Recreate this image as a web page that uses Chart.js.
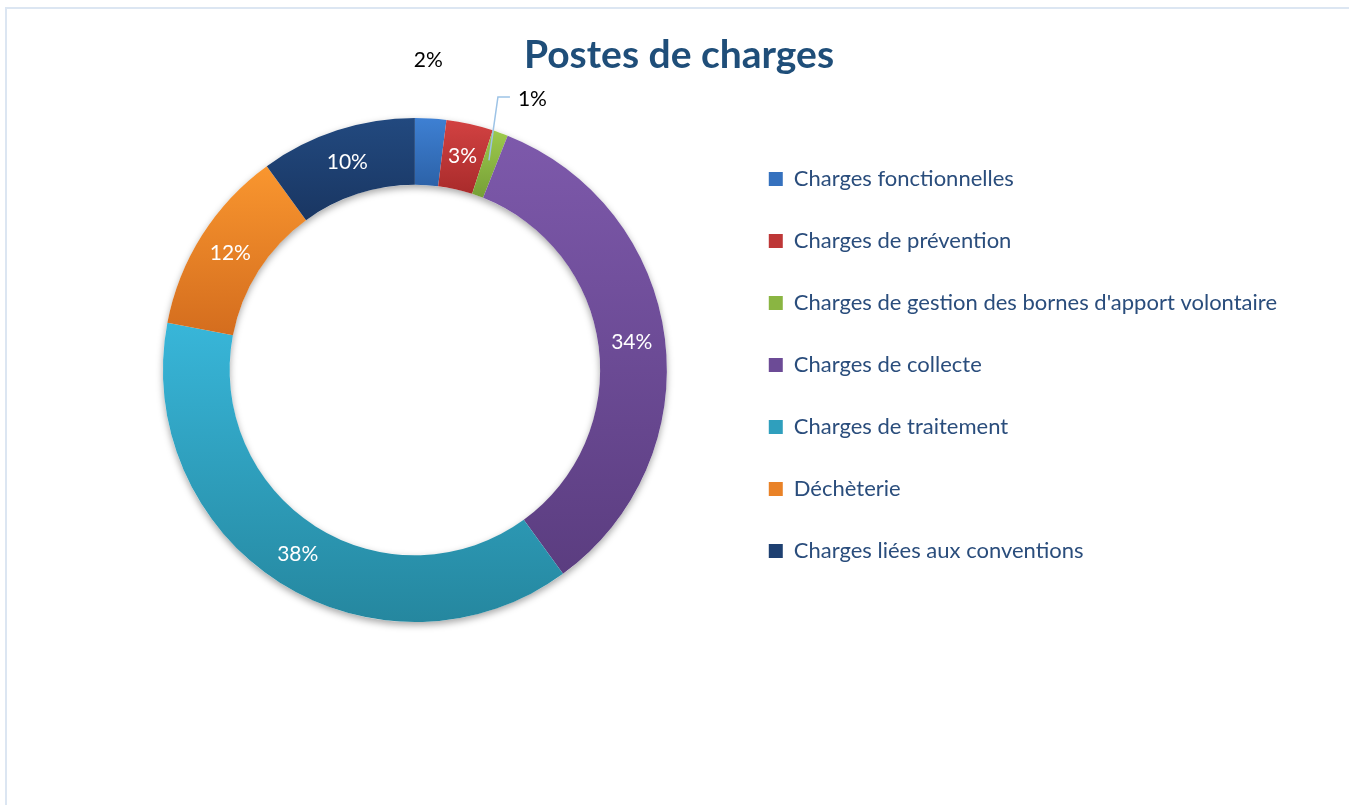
<!DOCTYPE html>
<html lang="fr">
<head>
<meta charset="utf-8">
<title>Postes de charges</title>
<script src="https://cdn.jsdelivr.net/npm/chart.js@4.4.1/dist/chart.umd.min.js"></script>
<style>
    html, body { margin: 0; padding: 0; background: #fff; overflow: hidden; }
    #chart { position: absolute; left: 0; top: 0; }
</style>
</head>
<body>
<canvas id="chart" width="1349" height="805"></canvas>
<script>
// Chart data
const categories = [
    'Charges fonctionnelles',
    'Charges de prévention',
    "Charges de gestion des bornes d'apport volontaire",
    'Charges de collecte',
    'Charges de traitement',
    'Déchèterie',
    'Charges liées aux conventions'
];
const shares = [2, 3, 1, 34, 38, 12, 10];

// Slice colours: [light top, dark bottom]
const topColors = ['#3e80d3', '#d24242', '#9dca4c', '#7d59ab', '#38b6d9', '#f9962f', '#22497f'];
const bottomColors = ['#2c62a8', '#a92b2b', '#769f37', '#5b3d80', '#25879f', '#d46d1e', '#193662'];
const midColors = ['#3571be', '#be3737', '#8ab542', '#6c4b96', '#2f9fbd', '#e98227', '#1e4071'];

const FONT = 'Lato, "Open Sans", sans-serif';
const LEGEND_SIZE = 22;
const LEGEND_PAD = 40;
const LEGEND_BOX = 14;

// measure the longest legend label so the legend lands at x ~ 769
function legendWidth() {
    const c = document.createElement('canvas').getContext('2d');
    c.font = `${LEGEND_SIZE}px ${FONT}`;
    const w = Math.max(...categories.map(t => c.measureText(t).width));
    return 10 + LEGEND_PAD + LEGEND_BOX + LEGEND_SIZE / 2 + w;
}
const padRight = Math.round(1349 - 729 - legendWidth());

function arcBounds(arc) {
    let minY = Infinity, maxY = -Infinity;
    const steps = 24;
    for (let s = 0; s <= steps; s++) {
        const a = arc.startAngle + (arc.endAngle - arc.startAngle) * s / steps;
        [arc.outerRadius, arc.innerRadius].forEach(r => {
            const y = arc.y + Math.sin(a) * r;
            minY = Math.min(minY, y);
            maxY = Math.max(maxY, y);
        });
    }
    return [minY, maxY];
}

// chart frame (left and top edges only are in view)
const framePlugin = {
    id: 'frame',
    beforeDraw(chart) {
        const ctx = chart.ctx;
        ctx.save();
        ctx.strokeStyle = '#dce6f2';
        ctx.lineWidth = 2;
        ctx.beginPath();
        ctx.moveTo(6, 820);
        ctx.lineTo(6, 8);
        ctx.lineTo(1360, 8);
        ctx.stroke();
        ctx.restore();
    }
};

// vertical gradient per slice, like the office chart style
const gradientPlugin = {
    id: 'sliceGradient',
    afterUpdate(chart) {
        const meta = chart.getDatasetMeta(0);
        meta.data.forEach((arc, i) => {
            const [y0, y1] = arcBounds(arc);
            const g = chart.ctx.createLinearGradient(0, y0, 0, y1);
            g.addColorStop(0, topColors[i]);
            g.addColorStop(1, bottomColors[i]);
            arc.options = Object.assign({}, arc.options, { backgroundColor: g });
        });
    }
};

// soft shadow under the ring
const shadowPlugin = {
    id: 'ringShadow',
    beforeDatasetsDraw(chart) {
        const arc = chart.getDatasetMeta(0).data[0];
        if (!arc) return;
        const ctx = chart.ctx;
        ctx.save();
        ctx.shadowColor = 'rgba(0,0,0,0.35)';
        ctx.shadowBlur = 7;
        ctx.shadowOffsetY = 3;
        ctx.fillStyle = '#ffffff';
        ctx.beginPath();
        ctx.arc(arc.x, arc.y, arc.outerRadius, 0, Math.PI * 2, false);
        ctx.arc(arc.x, arc.y, arc.innerRadius, 0, Math.PI * 2, true);
        ctx.fill();
        ctx.restore();
    }
};

// percentage labels
const labelPlugin = {
    id: 'pctLabels',
    afterDatasetsDraw(chart) {
        const ctx = chart.ctx;
        const meta = chart.getDatasetMeta(0);
        ctx.save();
        ctx.font = `21px ${FONT}`;
        ctx.textBaseline = 'middle';
        meta.data.forEach((arc, i) => {
            const text = shares[i] + '%';
            const mid = (arc.startAngle + arc.endAngle) / 2;
            if (shares[i] >= 3) {
                const p = arc.getCenterPoint();
                ctx.fillStyle = '#ffffff';
                ctx.textAlign = 'center';
                ctx.fillText(text, p.x, p.y);
            } else if (i === 0) {
                // outside, above the slice
                const r = arc.outerRadius + 58;
                ctx.fillStyle = '#000000';
                ctx.textAlign = 'center';
                ctx.fillText(text, arc.x + Math.cos(mid) * r - 6, arc.y + Math.sin(mid) * r);
            } else {
                // outside with a leader line
                const p = arc.getCenterPoint();
                const ey = arc.y - arc.outerRadius - 21;
                const ex = p.x + 9;
                ctx.strokeStyle = '#9dc3e6';
                ctx.lineWidth = 1.5;
                ctx.beginPath();
                ctx.moveTo(p.x, p.y - 4);
                ctx.lineTo(ex, ey);
                ctx.lineTo(ex + 12, ey);
                ctx.stroke();
                ctx.fillStyle = '#000000';
                ctx.textAlign = 'left';
                ctx.fillText(text, ex + 20, ey + 2);
            }
        });
        ctx.restore();
    }
};

// centre the title on the whole frame, move the legend rows down
const placementPlugin = {
    id: 'placement',
    afterLayout(chart) {
        chart.titleBlock.left = 9;
        chart.titleBlock.right = 1349;
        chart.legend.top += 54;
        chart.legend.bottom += 54;
    }
};

const chart = new Chart(document.getElementById('chart'), {
    type: 'doughnut',
    data: {
        labels: categories,
        datasets: [{
            data: shares,
            backgroundColor: midColors,
            borderWidth: 0
        }]
    },
    options: {
        responsive: false,
        devicePixelRatio: 1,
        animation: false,
        events: [],
        cutout: '73.5%',
        layout: {
            padding: { top: 0, left: 101, right: padRight, bottom: 183 }
        },
        plugins: {
            title: {
                display: true,
                text: 'Postes de charges',
                color: '#1f4e79',
                font: { family: FONT, size: 39, weight: 'bold' },
                padding: { top: 31.6, bottom: 39.6 }
            },
            legend: {
                position: 'right',
                align: 'center',
                labels: {
                    color: '#2a4d7c',
                    font: { family: FONT, size: LEGEND_SIZE },
                    boxWidth: LEGEND_BOX,
                    boxHeight: LEGEND_BOX,
                    padding: LEGEND_PAD
                }
            },
            tooltip: { enabled: false }
        }
    },
    plugins: [framePlugin, gradientPlugin, shadowPlugin, labelPlugin, placementPlugin]
});
</script>
</body>
</html>
